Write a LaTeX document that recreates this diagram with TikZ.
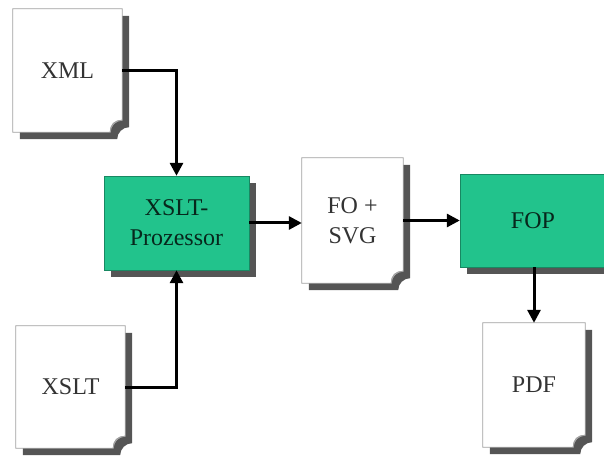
\documentclass[tikz,border=0pt]{standalone}
\usepackage{fontspec}
\setmainfont{Liberation Serif}
\newfontfamily\fxserif{Liberation Serif}
\usetikzlibrary{arrows.meta,calc,shadows,backgrounds}
\definecolor{fxgreen}{HTML}{22C38C}
\definecolor{fxshade}{HTML}{555555}
\definecolor{fxink}{HTML}{333333}
\definecolor{fxpage}{HTML}{A0A0A0}
\tikzset{
  docBox/.style={inner sep=0pt, text=fxink, align=center, font=\fxserif\fontsize{24}{30}\selectfont},
  procBox/.style={draw=fxgreen!70!black, fill=fxgreen, inner sep=0pt, align=center, text=black!80!fxgreen,
    font=\fxserif\fontsize{24}{30}\selectfont,
    general shadow={fill=fxshade, shadow xshift=7pt, shadow yshift=-7pt}},
  flowArrow/.style={-{Triangle[length=13pt,width=13pt]}, line width=3pt, draw=black}
}

\begin{document}
\begin{tikzpicture}[x=1pt,y=1pt]
  \useasboundingbox (0,0) rectangle (604,455);
  \node[docBox, minimum width=109pt, minimum height=123pt] (xmlDoc) at (67.5,384.5) {XML};
  \node[docBox, minimum width=109pt, minimum height=122pt] (xsltDoc) at (70.5,68) {XSLT};
  \node[procBox, minimum width=145pt, minimum height=94pt] (proc) at (176.5,232) {XSLT-\\Prozessor};
  \node[docBox, minimum width=101pt, minimum height=125pt] (foDoc) at (352.5,234.5) {FO +\\SVG};
  \node[procBox, minimum width=146pt, minimum height=93pt] (fop) at (533,234.5) {FOP};
  \node[docBox, minimum width=102pt, minimum height=124pt] (pdfDoc) at (534,70) {PDF};
  % pages with shadow and curled corner
  \begin{scope}[on background layer]
    \foreach \n in {xmlDoc,xsltDoc,foDoc,pdfDoc} {
      \fill[fxshade] ($(\n.north west)+(7,-7)$) -- ($(\n.north east)+(7,-7)$) -- ($(\n.south east)+(7,5)$)
        arc[start angle=90,end angle=180,radius=12] -- ($(\n.south west)+(7,-7)$) -- cycle;
      \filldraw[fill=white, draw=fxpage, line width=0.8pt] (\n.north west) -- (\n.north east) -- ($(\n.south east)+(0,12)$)
        arc[start angle=90,end angle=180,radius=12] -- (\n.south west) -- cycle;
      \filldraw[fill=gray!35, draw=fxpage, line width=0.6pt] ($(\n.south east)+(0,12)$)
        arc[start angle=90,end angle=180,radius=12] .. controls ($(\n.south east)+(-12,8)$) and ($(\n.south east)+(-8,12)$) .. cycle;
    }
  \end{scope}
  \draw[flowArrow] (xmlDoc.east) -| (proc.north);
  \draw[flowArrow] (xsltDoc.east) -| (proc.south);
  \draw[flowArrow] (proc.east) -- (proc.east -| foDoc.west);
  \draw[flowArrow] (foDoc.east) -- (foDoc.east -| fop.west);
  \draw[flowArrow] (pdfDoc.north |- fop.south) -- (pdfDoc.north);
\end{tikzpicture}
\end{document}
